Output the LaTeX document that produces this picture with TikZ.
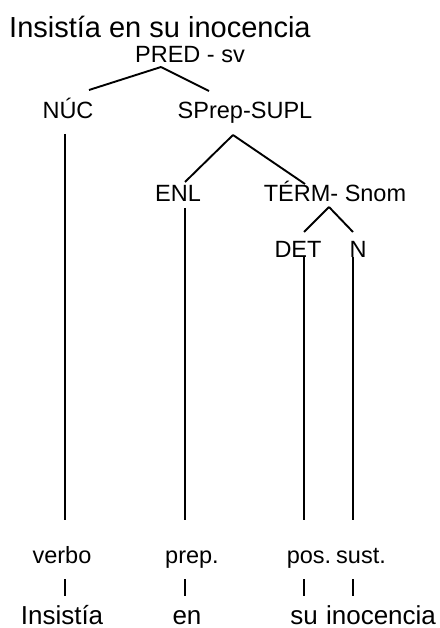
\documentclass[tikz,border=0pt]{standalone}
\usepackage{fontspec}
\setmainfont{Liberation Sans}
\usetikzlibrary{calc}
\begin{document}
\begin{tikzpicture}[x=1pt,y=-1pt,
  etiq/.style={anchor=base,inner sep=0pt,font=\fontsize{23.5}{27}\selectfont},
  palabra/.style={anchor=base,inner sep=0pt,font=\fontsize{26}{30}\selectfont},
  linea/.style={draw,line width=1.9pt}]
\newcommand\rama[4]{
\path[linea] ($(#1.base)+(#2)$) -- ($(#3.base)+(#4)$);
}
\useasboundingbox (0,0) rectangle (439,628);

\node[anchor=base west,inner sep=0pt,font=\fontsize{29}{34}\selectfont] (titulo) at (9,38) {Insistía en su inocencia};

\node[etiq] (pred) at (190,63) {PRED - sv};
\node[etiq] (nuc) at (68,119) {NÚC};
\node[etiq] (sprep) at (245,119) {SPrep-SUPL};
\node[etiq] (enl) at (178,202) {ENL};
\node[etiq] (term) at (335,202) {TÉRM- Snom};
\node[etiq] (det) at (298,257) {DET};
\node[etiq] (n) at (358,257) {N};

\node[etiq] (verbo) at (62,563) {verbo};
\node[etiq] (prep) at (192,563) {prep.};
\node[etiq] (pos) at (309,563) {pos.};
\node[etiq] (sust) at (361,563) {sust.};

\node[palabra] (insistia) at (62,624) {Insistía};
\node[palabra] (en) at (187,624) {en};
\node[palabra] (su) at (304,624) {su};
\node[palabra] (inocencia) at (381,624) {inocencia};

\rama{pred}{-29,4}{nuc}{21,-29}
\rama{pred}{-29,4}{sprep}{-36,-28}
\rama{sprep}{-12,16}{enl}{7,-20}
\rama{sprep}{-12,16}{term}{-30,-18}
\rama{term}{-6,5}{det}{6,-25}
\rama{term}{-6,5}{n}{-5,-25}

\rama{nuc}{-3,15}{verbo}{3,-43}
\rama{enl}{7,6}{prep}{-7,-43}
\rama{det}{6,0}{pos}{-5,-43}
\rama{n}{-5,0}{sust}{-8,-43}

\rama{verbo}{3,16}{insistia}{3,-28}
\rama{prep}{-7,16}{en}{-2,-28}
\rama{pos}{-5,16}{su}{0,-28}
\rama{sust}{-8,16}{inocencia}{-28,-28}
\end{tikzpicture}
\end{document}
